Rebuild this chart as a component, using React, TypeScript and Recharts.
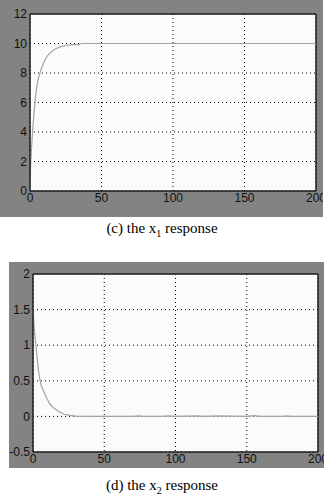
import { LineChart, Line, XAxis, YAxis, CartesianGrid, ReferenceLine } from "recharts";

// time samples (s) and responses
const x1Times = [0, 1, 2, 3, 4, 5, 6, 8, 10, 12, 15, 18, 22, 26, 30, 34, 36, 40, 60, 100, 150, 200];
const x1Values = [0.8, 2.8, 4.3, 5.5, 6.5, 7.2, 7.7, 8.3, 8.8, 9.15, 9.45, 9.65, 9.8, 9.88, 9.92, 9.93, 10, 10, 10, 10, 10, 10];

const x2Times = [0, 1, 2, 3, 4, 5, 6, 8, 10, 12, 15, 18, 22, 26, 30, 40, 70, 74, 78, 90, 95, 100, 115, 120, 130, 150, 155, 160, 175, 178, 181, 200];
const x2Values = [1.5, 1.2, 1.0, 0.8, 0.62, 0.5, 0.42, 0.33, 0.24, 0.17, 0.11, 0.07, 0.03, 0.015, 0.005, 0, 0, 0.008, 0, 0, 0.008, 0, 0.006, 0, 0.006, 0, 0.01, 0, 0, 0.008, 0, 0];

const xTicks = [0, 50, 100, 150, 200];
const x1Ticks = [0, 2, 4, 6, 8, 10, 12];
const x2Ticks = [-0.5, 0, 0.5, 1, 1.5, 2];

const x1Data = x1Times.map((t, i) => ({ t, v: x1Values[i] }));
const x2Data = x2Times.map((t, i) => ({ t, v: x2Values[i] }));

const GRAY = "#838383";
const tickStyle = {
  fontFamily: "'Liberation Sans Narrow', 'Liberation Sans', Arial, sans-serif",
  fontSize: 12,
  fill: "#111",
};

function Panel({ data, yTicks, yDomain, width, height, yWidth, margin }: any) {
  return (
    <LineChart width={width} height={height} data={data} margin={margin}>
      <CartesianGrid fill="#fbfbfb" stroke="#000" strokeDasharray="1 3" />
      <XAxis
        dataKey="t"
        type="number"
        domain={[0, 200]}
        ticks={xTicks}
        tickLine={false}
        tickSize={0}
        tickMargin={2}
        height={margin.xh}
        axisLine={{ stroke: "#222", strokeWidth: 1.5 }}
        tick={tickStyle}
        interval={0}
      />
      <YAxis
        type="number"
        domain={yDomain}
        ticks={yTicks}
        tickLine={false}
        tickSize={0}
        tickMargin={3}
        width={yWidth}
        axisLine={{ stroke: "#222", strokeWidth: 1.5 }}
        tick={tickStyle}
        interval={0}
        allowDataOverflow
      />
      <ReferenceLine y={yDomain[1]} stroke="#222" strokeWidth={1.5} />
      <ReferenceLine x={200} stroke="#222" strokeWidth={1.5} />
      <Line
        dataKey="v"
        type="linear"
        stroke="#a3a3a3"
        strokeWidth={1.2}
        dot={false}
        isAnimationActive={false}
      />
    </LineChart>
  );
}

const captionStyle = {
  position: "absolute" as const,
  left: 0,
  width: 324,
  textAlign: "center" as const,
  fontFamily: "'Liberation Serif', 'Times New Roman', serif",
  fontSize: 15,
  color: "#000",
};

export default function App() {
  return (
    <div style={{ position: "absolute", left: 0, top: 0, width: 324, height: 504, background: "#fff" }}>
      <div style={{ position: "absolute", left: 0, top: 0, width: 323, height: 217, background: GRAY }}>
        <Panel
          data={x1Data}
          yTicks={x1Ticks}
          yDomain={[0, 12]}
          width={323}
          height={217}
          yWidth={30}
          margin={{ top: 14, right: 7, left: 0, bottom: 0, xh: 26 }}
        />
      </div>
      <div style={{ ...captionStyle, top: 220 }}>
        (c) the x<sub style={{ fontSize: 10 }}>1</sub> response
      </div>
      <div style={{ position: "absolute", left: 9, top: 262, width: 315, height: 206, background: GRAY }}>
        <Panel
          data={x2Data}
          yTicks={x2Ticks}
          yDomain={[-0.5, 2]}
          width={315}
          height={206}
          yWidth={24}
          margin={{ top: 12, right: 6, left: 0, bottom: 0, xh: 16 }}
        />
      </div>
      <div style={{ ...captionStyle, top: 477 }}>
        (d) the x<sub style={{ fontSize: 10 }}>2</sub> response
      </div>
    </div>
  );
}
